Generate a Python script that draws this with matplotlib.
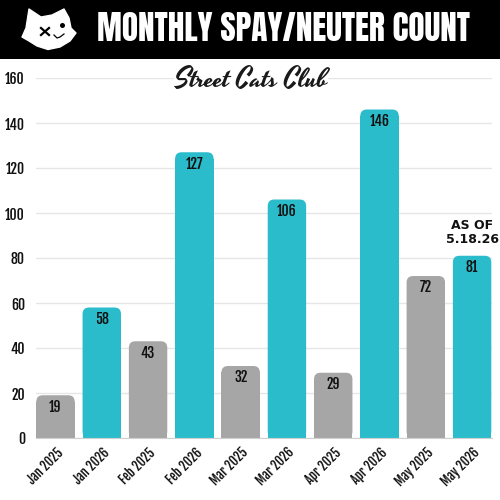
import matplotlib
matplotlib.use("Agg")
import matplotlib.pyplot as plt
from matplotlib.patches import FancyBboxPatch, Polygon, Ellipse, Rectangle

months = ["Jan 2025", "Jan 2026", "Feb 2025", "Feb 2026", "Mar 2025",
          "Mar 2026", "Apr 2025", "Apr 2026", "May 2025", "May 2026"]
counts = [19, 58, 43, 127, 32, 106, 29, 146, 72, 81]
y_ticks = [0, 20, 40, 60, 80, 100, 120, 140, 160]

GREY = "#a6a6a6"
TEAL = "#2bbccb"
HEAD_FONT = ["Anton", "Roboto", "DejaVu Sans"]
LABEL_FONT = ["Fjalla One", "Roboto", "DejaVu Sans"]
SCRIPT_FONT = ["Yesteryear", "DejaVu Serif"]

fig = plt.figure(figsize=(5, 5), dpi=100, facecolor="white")

# plot area in pixels: x 36-492, y 78-438
ax = fig.add_axes([36 / 500, 62 / 500, 456 / 500, 360 / 500])
ax.set_xlim(-0.421, 9.43)
ax.set_ylim(0, 160)
ax.set_axisbelow(True)
ax.grid(axis="y", color="#e6e6e6", linewidth=1)
for s in ax.spines.values():
    s.set_visible(False)
ax.spines["bottom"].set_visible(True)
ax.spines["bottom"].set_color("#d0d0d0")

bar_w = 0.83
r_x = 0.14
r_y = r_x * (46.3 / 2.25)
for i, v in enumerate(counts):
    color = GREY if i % 2 == 0 else TEAL
    # square bottom, rounded top
    ax.bar(i, v - r_y, width=bar_w, color=color, linewidth=0, zorder=2)
    ax.add_patch(FancyBboxPatch((i - bar_w / 2, 0), bar_w, v,
                                boxstyle=f"round,pad=0,rounding_size={r_x}",
                                mutation_aspect=46.3 / 2.25,
                                facecolor=color, edgecolor="none", zorder=2))
    ax.text(i, v - 1.5, str(v), ha="center", va="top", fontsize=10,
            family=LABEL_FONT, color="#111111", zorder=3)

ax.set_xticks(range(len(months)))
ax.set_xticklabels(months, rotation=45, ha="right", rotation_mode="anchor",
                   fontsize=9, family=LABEL_FONT, color="#111111")
ax.set_yticks(y_ticks)
ax.set_yticklabels([str(t) for t in y_ticks], fontsize=10,
                   family=LABEL_FONT, color="#111111")
ax.tick_params(axis="both", length=0)
ax.tick_params(axis="y", pad=8)
ax.tick_params(axis="x", pad=5)

ax.text(9, 97.5, "AS OF\n5.18.26", ha="center", va="top", fontsize=9,
        fontweight="bold", family="DejaVu Sans", color="#111111",
        linespacing=1.15, zorder=3)

# logo text, white box hides the 160 gridline behind it
fig.text(251 / 500, 1 - 81 / 500, "Street Cats Club", ha="center", va="center",
         fontsize=20, family=SCRIPT_FONT, color="#1a1a1a",
         bbox=dict(facecolor="white", edgecolor="none", pad=0))

# header band + cat head, pixel coordinates
top = fig.add_axes([0, 0, 1, 1], facecolor="none", zorder=5)
top.set_xlim(0, 500)
top.set_ylim(500, 0)
top.axis("off")
top.add_patch(Rectangle((0, 0), 500, 59, facecolor="black", edgecolor="none"))
head = [(22, 37), (26, 28), (29, 9), (41, 17), (52, 15), (64, 9), (69, 18),
        (71, 28), (76, 33), (70, 41), (60, 47), (48, 49.5), (37, 46), (29, 41)]
top.add_patch(Polygon(head, closed=True, facecolor="white", edgecolor="white",
                      linewidth=1, joinstyle="round"))
top.plot([41, 49], [28, 35], color="black", linewidth=1.6)
top.plot([41, 49], [35, 28], color="black", linewidth=1.6)
top.add_patch(Ellipse((62.5, 25.5), 5, 5, facecolor="black"))
top.plot([54, 57, 60, 64], [35, 38, 37, 34], color="black", linewidth=0.9)

top.text(283.5, 28.5, "MONTHLY SPAY/NEUTER COUNT", ha="center", va="center",
         fontsize=24, family=HEAD_FONT, color="white")

fig.savefig("out.png", dpi=100)
plt.close(fig)
